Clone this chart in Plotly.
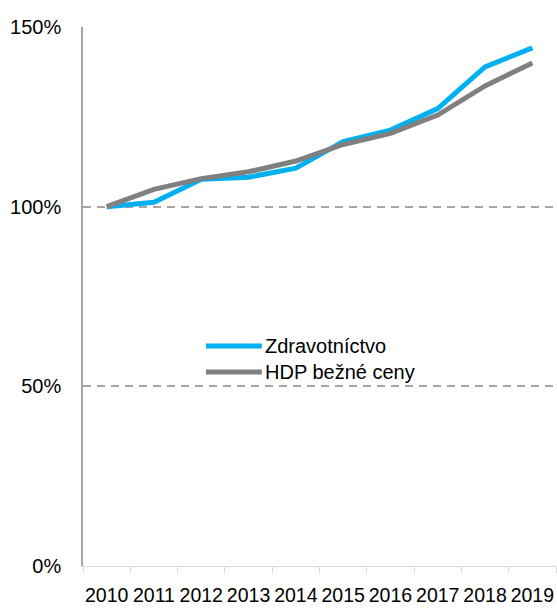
import plotly.graph_objects as go

years = ["2010", "2011", "2012", "2013", "2014", "2015", "2016", "2017", "2018", "2019"]
zdravotnictvo = [100.0, 101.2, 107.6, 108.2, 110.7, 118.1, 121.3, 127.3, 138.9, 144.2]
hdp = [100.0, 104.8, 107.8, 109.7, 112.7, 117.3, 120.4, 125.5, 133.6, 140.0]
names = ["Zdravotníctvo", "HDP bežné ceny"]
colors = ["#00B0F0", "#808080"]
y_ticks = [0, 50, 100, 150]
y_tick_text = ["0%", "50%", "100%", "150%"]

FONT = "Liberation Sans, Arial, sans-serif"

fig = go.Figure()
for vals, name, col in zip([zdravotnictvo, hdp], names, colors):
    fig.add_trace(go.Scatter(x=years, y=vals, mode="lines", name=name,
                             line=dict(color=col, width=5), showlegend=False))

# custom legend (line sample + text)
leg_y = [0.408, 0.36]
for i, (name, col) in enumerate(zip(names, colors)):
    fig.add_shape(type="line", xref="paper", yref="paper",
                  x0=0.26, x1=0.378, y0=leg_y[i], y1=leg_y[i],
                  line=dict(color=col, width=5))
    fig.add_annotation(xref="paper", yref="paper", x=0.38, y=leg_y[i],
                       text=name, showarrow=False, xanchor="left", yanchor="middle",
                       font=dict(family=FONT, size=20, color="#000000"))

fig.update_layout(
    width=557, height=608,
    margin=dict(l=83, r=1, t=27, b=42),
    paper_bgcolor="white", plot_bgcolor="white",
    font=dict(family=FONT, size=20, color="#000000"),
    showlegend=False,
)
fig.update_xaxes(
    type="category", tickson="boundaries", ticks="outside", ticklen=6,
    tickcolor="#D9D9D9", showline=True, linecolor="#D9D9D9", linewidth=1,
    showgrid=False, ticklabelstandoff=12, range=[-0.5, 9.5], tickangle=0,
    automargin=False, tickfont=dict(size=19.5),
)
fig.update_yaxes(
    range=[0, 150], tickvals=y_ticks, ticktext=y_tick_text,
    showline=True, linecolor="#A6A6A6", linewidth=1.5,
    showgrid=True, gridcolor="#A6A6A6", gridwidth=1.5, griddash="8px,6px",
    zeroline=False, ticks="", ticklabelstandoff=16, automargin=False,
)
fig.write_html(
    "out.html",
    config={"displayModeBar": False},
    post_script="document.body.style.margin='0';document.body.style.overflow='hidden';",
)
